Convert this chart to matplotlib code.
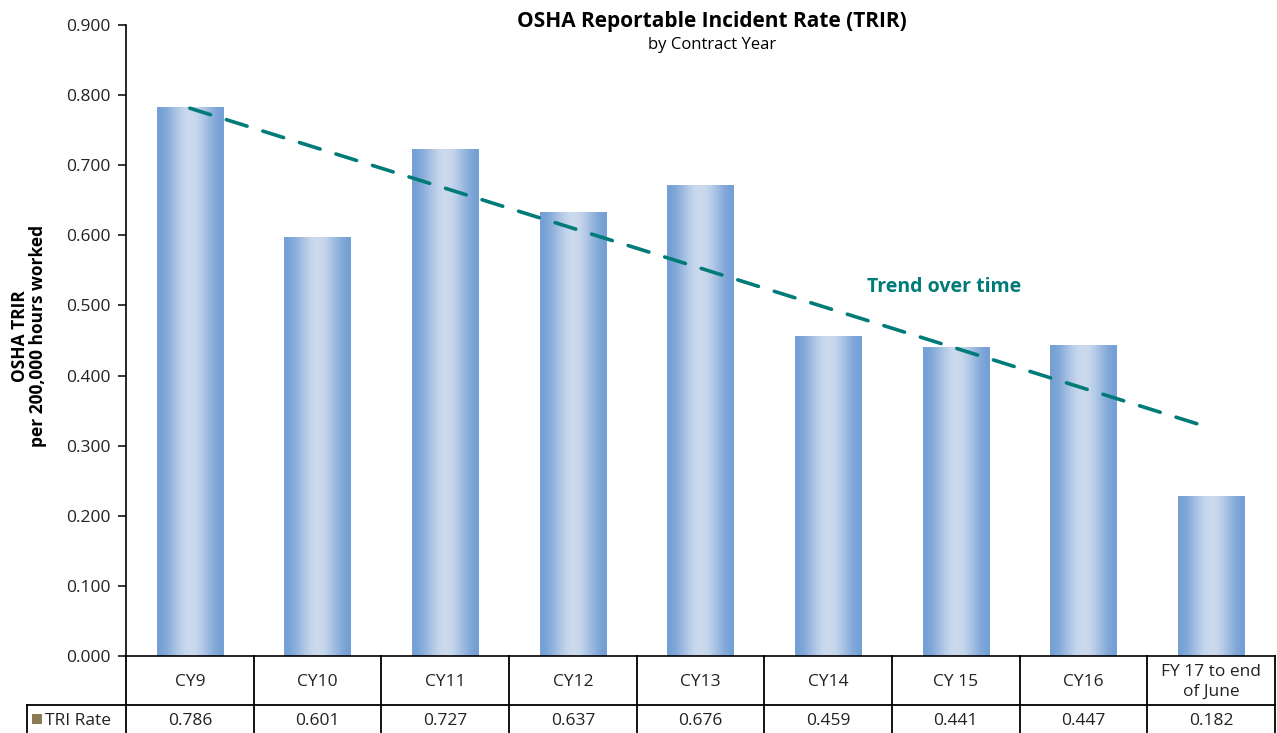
import numpy as np
import matplotlib
matplotlib.use("Agg")
import matplotlib.pyplot as plt
from matplotlib.lines import Line2D
from matplotlib.patches import Rectangle
from matplotlib.transforms import blended_transform_factory

plt.rcParams['font.family'] = ['Open Sans', 'DejaVu Sans']

categories = ["CY9", "CY10", "CY11", "CY12", "CY13", "CY14", "CY 15", "CY16", "FY 17 to end\nof June"]
bar_values = [0.783, 0.598, 0.723, 0.633, 0.672, 0.456, 0.441, 0.444, 0.228]
table_values = ["0.786", "0.601", "0.727", "0.637", "0.676", "0.459", "0.441", "0.447", "0.182"]
yticks = [0.0, 0.1, 0.2, 0.3, 0.4, 0.5, 0.6, 0.7, 0.8, 0.9]
series_name = "TRI Rate"

W, H = 1277, 733
fig = plt.figure(figsize=(W / 100, H / 100), dpi=100)
ax = fig.add_axes([126 / W, 1 - 656 / H, 1149 / W, (656 - 25) / H])

text_color = "#222222"
teal = "#007B78"
edge_rgb = np.array([117, 160, 213]) / 255
center_rgb = np.array([204, 218, 238]) / 255

x = np.arange(len(categories))
bw = 0.52
bars = ax.bar(x, bar_values, width=bw, color="none", edgecolor="none", zorder=2)

# horizontal gradient for each bar
n = 256
t = np.linspace(0, 1, n)
w = 0.5 - 0.5 * np.cos(2 * np.pi * t)  # 0 at edges, 1 at centre
grad = edge_rgb[None, :] * (1 - w[:, None]) + center_rgb[None, :] * w[:, None]
img = grad[None, :, :]
for b in bars:
    x0, y0 = b.get_x(), b.get_y()
    im = ax.imshow(img, extent=(x0, x0 + b.get_width(), y0, y0 + b.get_height()),
                   aspect="auto", zorder=2, interpolation="bilinear")
    im.set_clip_path(b)

# linear trend line through the bar values
coef = np.polyfit(x, bar_values, 1)
trend = np.polyval(coef, x)
ax.plot(x, trend, color=teal, lw=2.6, dashes=(6.0, 4.6), dash_capstyle="round", zorder=3)
ax.text(5.91, 0.526, "Trend over time", color=teal, fontsize=14, fontweight="bold",
        ha="center", va="center", zorder=4)

ax.set_xlim(-0.5, len(categories) - 0.5)
ax.set_ylim(0, 0.9)
ax.set_yticks(yticks)
ax.set_yticklabels([f"{v:.3f}" for v in yticks], fontsize=12.5, color=text_color)
ax.tick_params(axis="y", direction="out", length=6, width=1.1, pad=5, colors="black")
for lab in ax.get_yticklabels():
    lab.set_color(text_color)
ax.set_xticks([])
for s in ["top", "right"]:
    ax.spines[s].set_visible(False)
for s in ["left", "bottom"]:
    ax.spines[s].set_linewidth(1.2)
    ax.spines[s].set_color("black")

# title
fig.text(712 / W, 1 - 22 / H, "OSHA Reportable Incident Rate (TRIR)", ha="center", va="center",
         fontsize=15, fontweight="bold", color="black")
fig.text(712 / W, 1 - 45 / H, "by Contract Year", ha="center", va="center",
         fontsize=12, color="black")

# y label
fig.text(29 / W, 1 - 336 / H, "OSHA TRIR\nper 200,000 hours worked", rotation=90,
         ha="center", va="center", multialignment="center", fontsize=12.5,
         fontweight="bold", color="black", linespacing=1.05)

# data table
tr = blended_transform_factory(ax.transData, fig.transFigure)
y_top = 1 - 656 / H
y_mid = 1 - 705 / H
y_bot = -0.05
lw_t = 1.3
edges = np.arange(len(categories) + 1) - 0.5
for e in edges:
    fig.add_artist(Line2D([e, e], [y_top, y_bot], transform=tr, color="black", lw=lw_t))
fig.add_artist(Line2D([27 / W, 1275 / W], [y_mid, y_mid], transform=fig.transFigure,
                      color="black", lw=lw_t))
fig.add_artist(Line2D([27 / W, 27 / W], [y_mid, y_bot], transform=fig.transFigure,
                      color="black", lw=lw_t))
for i, (c, v) in enumerate(zip(categories, table_values)):
    fig.text(i, 1 - 682 / H, c, transform=tr, ha="center", va="center", fontsize=12.5,
             color=text_color, linespacing=1.25)
    fig.text(i, 1 - 721 / H, v, transform=tr, ha="center", va="center", fontsize=12.5,
             color=text_color)

# legend key in table
fig.add_artist(Rectangle((32 / W, 1 - 724 / H), 10 / W, 10 / H, transform=fig.transFigure,
                         facecolor="#8a7c52", edgecolor="none"))
fig.text(45 / W, 1 - 721 / H, series_name, ha="left", va="center", fontsize=12.5,
         color=text_color)

fig.savefig("out.png", dpi=100)
